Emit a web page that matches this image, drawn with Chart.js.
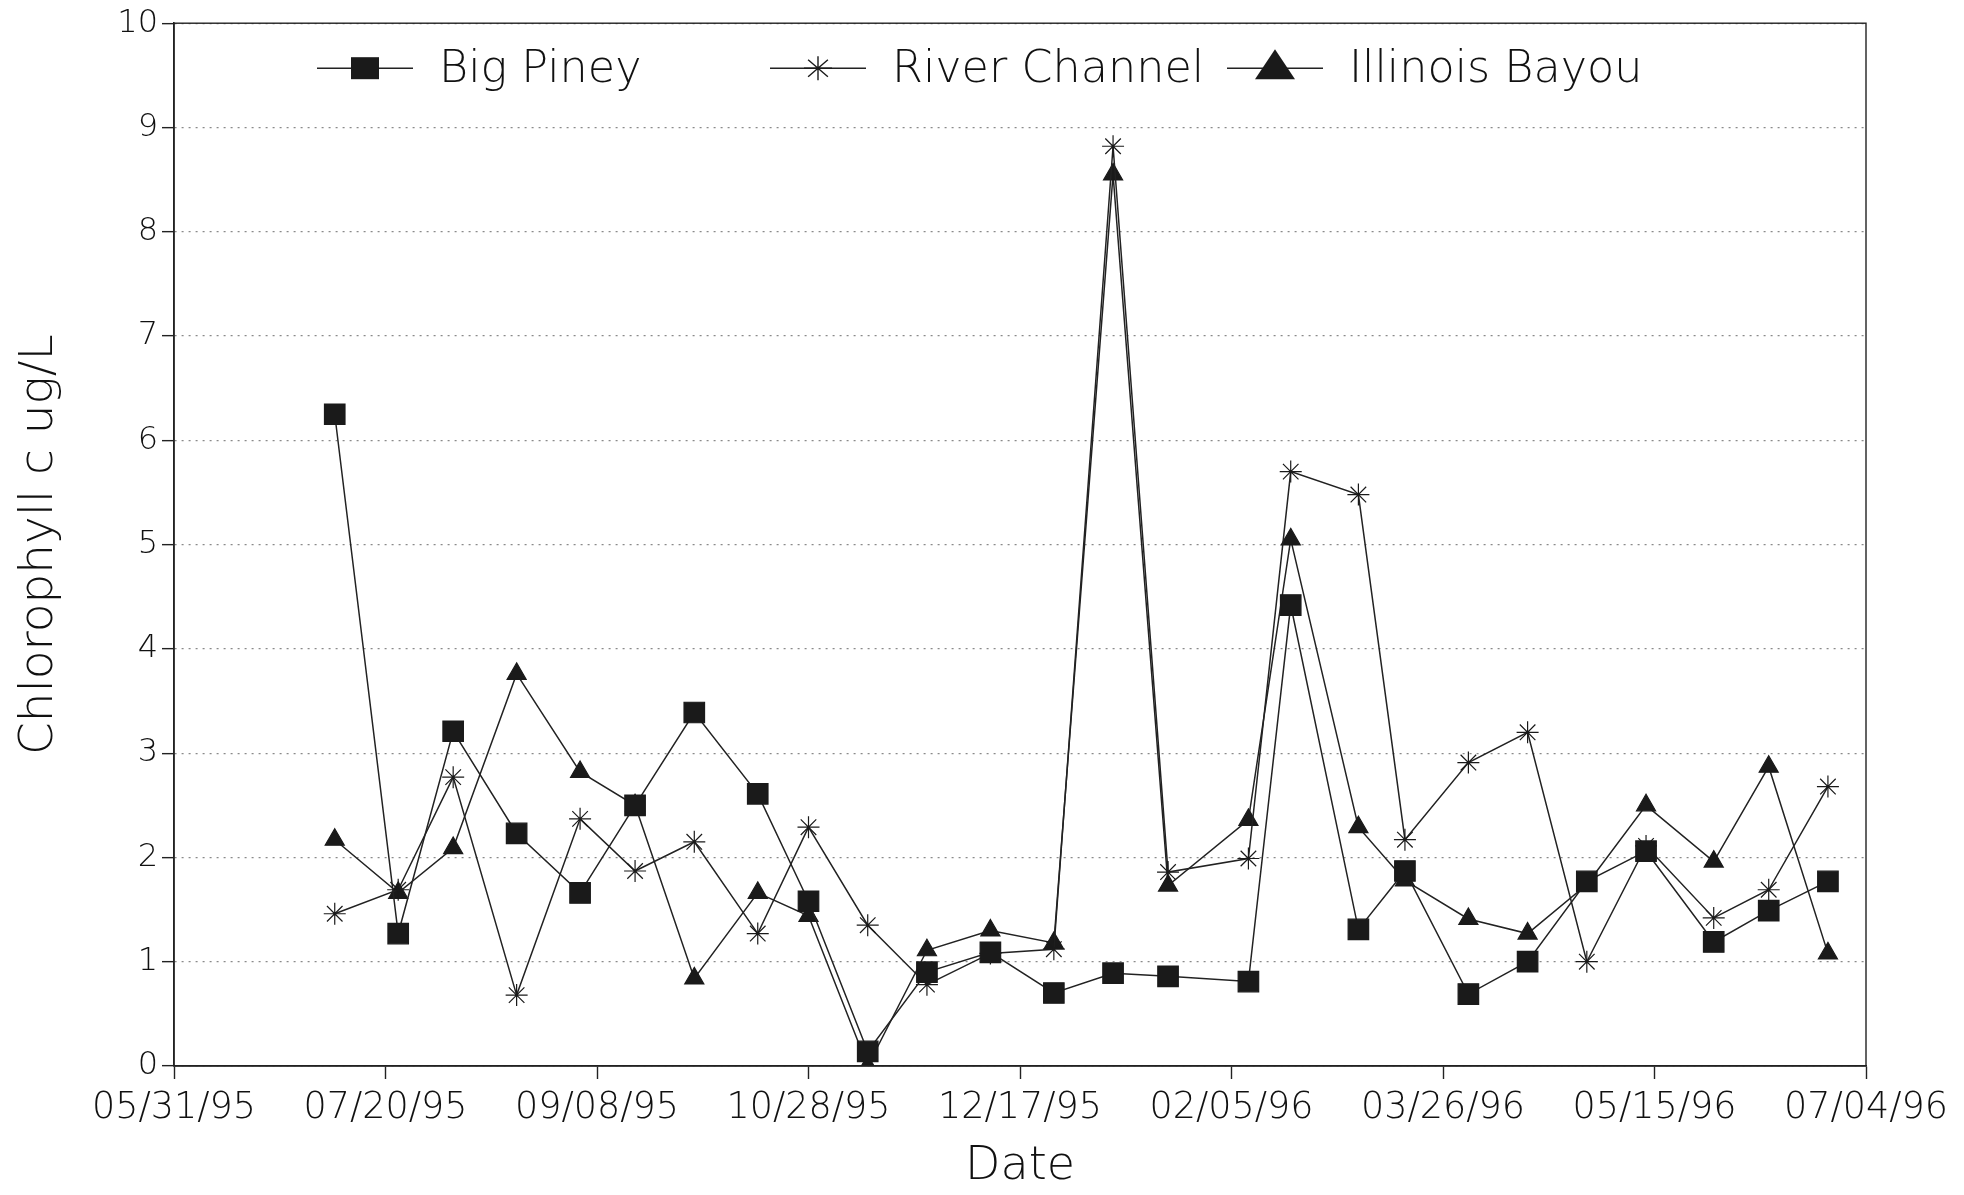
<!DOCTYPE html>
<html>
<head>
<meta charset="utf-8">
<script src="https://cdn.jsdelivr.net/npm/chart.js@4.4.0/dist/chart.umd.min.js"></script>
<style>
  html, body { margin: 0; padding: 0; background: #fff; }
  canvas { display: block; }
</style>
</head>
<body>
<canvas id="chlChart" width="1964" height="1195"></canvas>
<script>
// sampling dates (MM/DD/YY), one per sampling trip
var sampleDates = ['07/08/95', '07/23/95', '08/05/95', '08/20/95', '09/04/95', '09/17/95',
    '10/01/95', '10/16/95', '10/28/95', '11/11/95', '11/25/95', '12/10/95', '12/25/95',
    '01/08/96', '01/21/96', '02/09/96', '02/19/96', '03/06/96', '03/17/96', '04/01/96',
    '04/15/96', '04/29/96', '05/13/96', '05/29/96', '06/11/96', '06/25/96'];

// chlorophyll c, ug/L
var bigPiney = [6.25, 1.27, 3.21, 2.23, 1.66, 2.50, 3.39, 2.61, 1.58, 0.14, 0.90, 1.09, 0.70,
    0.89, 0.86, 0.81, 4.42, 1.31, 1.87, 0.69, 1.00, 1.77, 2.06, 1.19, 1.49, 1.77];
var riverChannel = [1.46, 1.69, 2.77, 0.68, 2.37, 1.87, 2.15, 1.27, 2.29, 1.35, 0.78, 1.08, 1.12,
    8.82, 1.86, 1.99, 5.70, 5.48, 2.17, 2.91, 3.20, 1.00, 2.11, 1.42, 1.69, 2.68];
var illinoisBayou = [2.17, 1.66, 2.09, 3.76, 2.82, 2.50, 0.84, 1.66, 1.44, 0.00, 1.11, 1.30, 1.18,
    8.55, 1.73, 2.36, 5.05, 2.29, 1.78, 1.41, 1.27, 1.74, 2.50, 1.96, 2.87, 1.08];

var seriesNames = ['Big Piney', 'River Channel', 'Illinois Bayou'];

// x axis runs in days from 05/31/95, a tick every 50 days
var startDate = '05/31/95';
var axisDays = 400;
var tickStepDays = 50;
var yMax = 10;

function parseDate(s) {
    var p = s.split('/');
    return Date.UTC(1900 + Number(p[2]), Number(p[0]) - 1, Number(p[1]));
}
var DAY = 86400000;
var t0 = parseDate(startDate);

function dayOf(s) {
    return Math.round((parseDate(s) - t0) / DAY);
}

function fmtDate(days) {
    var d = new Date(t0 + days * DAY);
    var mm = String(d.getUTCMonth() + 1).padStart(2, '0');
    var dd = String(d.getUTCDate()).padStart(2, '0');
    var yy = String(d.getUTCFullYear() % 100).padStart(2, '0');
    return mm + '/' + dd + '/' + yy;
}

function toPoints(values) {
    return values.map(function (v, i) {
        return { x: dayOf(sampleDates[i]), y: v };
    });
}

var FONT = "'DejaVu Sans', 'Liberation Sans', sans-serif";
var INK = '#1a1a1a';

function series(label, values, style, radius) {
    return {
        label: label,
        data: toPoints(values),
        borderColor: '#222',
        borderWidth: 1.5,
        pointStyle: style,
        pointRadius: radius,
        pointBackgroundColor: INK,
        pointBorderColor: INK,
        pointBorderWidth: 1.2,
        tension: 0,
        fill: false
    };
}

// key drawn inside the plot frame: a short line with the marker on it, then the name
var insideLegend = {
    id: 'insideLegend',
    afterDraw: function (chart, args, opts) {
        var ctx = chart.ctx;
        var area = chart.chartArea;
        var y = area.top + opts.offsetY;
        ctx.save();
        chart.data.datasets.forEach(function (ds, i) {
            var x0 = area.left + opts.starts[i];
            var x1 = x0 + opts.lineLength;
            var cx = (x0 + x1) / 2;
            ctx.strokeStyle = '#222';
            ctx.lineWidth = 1.6;
            ctx.beginPath();
            ctx.moveTo(x0, y);
            ctx.lineTo(x1, y);
            ctx.stroke();

            ctx.fillStyle = INK;
            ctx.strokeStyle = INK;
            if (ds.pointStyle === 'rect') {
                ctx.fillRect(cx - 14, y - 11, 28, 22);
            } else if (ds.pointStyle === 'triangle') {
                ctx.beginPath();
                ctx.moveTo(cx, y - 19);
                ctx.lineTo(cx + 20, y + 11);
                ctx.lineTo(cx - 20, y + 11);
                ctx.closePath();
                ctx.fill();
            } else {
                ctx.lineWidth = 1.4;
                ctx.beginPath();
                for (var k = 0; k < 4; k++) {
                    var a = k * Math.PI / 4;
                    ctx.moveTo(cx - Math.cos(a) * 14, y - Math.sin(a) * 12);
                    ctx.lineTo(cx + Math.cos(a) * 14, y + Math.sin(a) * 12);
                }
                ctx.stroke();
            }

            ctx.fillStyle = '#111';
            ctx.font = opts.fontWeight + ' ' + opts.fontSize + 'px ' + FONT;
            ctx.textAlign = 'left';
            ctx.textBaseline = 'middle';
            ctx.fillText(ds.label, x1 + opts.textGap, y + 2);
        });
        ctx.restore();
    }
};

// thin box around the plotting area
var plotFrame = {
    id: 'plotFrame',
    afterDatasetsDraw: function (chart) {
        var a = chart.chartArea;
        var ctx = chart.ctx;
        ctx.save();
        ctx.strokeStyle = '#222';
        ctx.lineWidth = 1.4;
        ctx.strokeRect(a.left, a.top, a.right - a.left, a.bottom - a.top);
        ctx.restore();
    }
};

var ctx = document.getElementById('chlChart').getContext('2d');
var chlChart = new Chart(ctx, {
    type: 'line',
    data: {
        datasets: [
            series(seriesNames[0], bigPiney, 'rect', 14.5),
            series(seriesNames[1], riverChannel, 'star', 11),
            series(seriesNames[2], illinoisBayou, 'triangle', 11)
        ]
    },
    options: {
        responsive: false,
        animation: false,
        devicePixelRatio: 1,
        layout: { padding: { top: 22, right: 98, left: 0, bottom: 0 } },
        plugins: {
            legend: { display: false },
            tooltip: { enabled: false },
            insideLegend: {
                starts: [143, 596, 1053],
                lineLength: 96,
                textGap: 26,
                offsetY: 45,
                fontSize: 44.5,
                fontWeight: '200'
            }
        },
        scales: {
            x: {
                type: 'linear',
                min: 0,
                max: axisDays,
                afterFit: function (scale) { scale.height = 129; },
                ticks: {
                    stepSize: tickStepDays,
                    color: '#111',
                    padding: 8,
                    maxRotation: 0,
                    font: { family: FONT, size: 36.5, weight: '200' },
                    callback: function (v) { return fmtDate(v); }
                },
                grid: {
                    drawOnChartArea: false,
                    tickLength: 13,
                    tickColor: '#222',
                    tickWidth: 1.4
                },
                border: { color: '#222', width: 1.6 },
                title: {
                    display: true,
                    text: 'Date',
                    color: '#111',
                    padding: { top: 0, bottom: 0 },
                    font: { family: FONT, size: 46, weight: '200' }
                }
            },
            y: {
                min: 0,
                max: yMax,
                afterFit: function (scale) { scale.width = 174; },
                ticks: {
                    stepSize: 1,
                    color: '#111',
                    padding: 4,
                    font: { family: FONT, size: 32, weight: '200' }
                },
                grid: {
                    color: '#8a8a8a',
                    lineWidth: 1.3,
                    tickLength: 12,
                    tickColor: '#222',
                    tickWidth: 1.4,
                    tickBorderDash: []
                },
                border: { color: '#222', width: 1.6, dash: [2, 5] },
                title: {
                    display: true,
                    text: 'Chlorophyll c ug/L',
                    color: '#111',
                    padding: { top: 12, bottom: 0 },
                    font: { family: FONT, size: 47, weight: '200' }
                }
            }
        }
    },
    plugins: [plotFrame, insideLegend]
});
</script>
</body>
</html>
